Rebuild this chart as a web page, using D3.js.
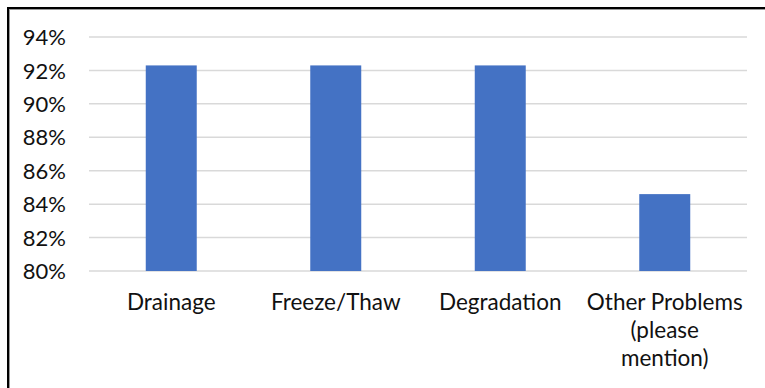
<!DOCTYPE html>
<html>
<head>
<meta charset="utf-8">
<script src="https://cdn.jsdelivr.net/npm/d3@7"></script>
<style>
  html, body { margin: 0; padding: 0; background: #fff; }
  svg { display: block; }
  text { font-family: Lato, "Open Sans", sans-serif; fill: #111; }
</style>
</head>
<body>
<svg id="chart" width="765" height="388"></svg>
<script>
// Share of responses per problem type
const categories = ["Drainage", "Freeze/Thaw", "Degradation", "Other Problems (please mention)"];
const categoryLines = [["Drainage"], ["Freeze/Thaw"], ["Degradation"], ["Other Problems", "(please", "mention)"]];
const values = [0.923, 0.923, 0.923, 0.846];
const yTicks = [0.80, 0.82, 0.84, 0.86, 0.88, 0.90, 0.92, 0.94];

const svg = d3.select("#chart");
const plot = { left: 89, right: 747, top: 37, bottom: 271 };

// Outer frame (only its top and left edges fall inside the view)
svg.append("rect")
  .attr("x", 8).attr("y", 8)
  .attr("width", 800).attr("height", 420)
  .attr("fill", "none")
  .attr("stroke", "#000")
  .attr("stroke-width", 2);
svg.append("line").attr("x1", 9).attr("x2", 765).attr("y1", 9.5).attr("y2", 9.5)
  .attr("stroke", "#999").attr("stroke-width", 1);
svg.append("line").attr("x1", 9.5).attr("x2", 9.5).attr("y1", 9).attr("y2", 388)
  .attr("stroke", "#999").attr("stroke-width", 1);

const x = d3.scaleBand()
  .domain(categories)
  .range([plot.left, plot.right])
  .paddingInner(0.69)
  .paddingOuter(0.345);

const y = d3.scaleLinear()
  .domain([0.80, 0.94])
  .range([plot.bottom, plot.top]);

// Horizontal gridlines
svg.append("g")
  .selectAll("line")
  .data(yTicks)
  .join("line")
  .attr("x1", plot.left).attr("x2", plot.right)
  .attr("y1", d => y(d)).attr("y2", d => y(d))
  .attr("stroke", "#d9d9d9")
  .attr("stroke-width", 1.5);

// Y axis labels
const yAxis = d3.axisLeft(y)
  .tickValues(yTicks)
  .tickFormat(d3.format(".0%"))
  .tickSize(0)
  .tickPadding(0);
const gy = svg.append("g")
  .attr("transform", `translate(${plot.left - 23},0)`)
  .call(yAxis);
gy.select(".domain").remove();
gy.selectAll("text")
  .attr("font-size", 22)
  .attr("font-family", "Lato, 'Open Sans', sans-serif")
  .attr("fill", "#111")
  .attr("dy", "0.35em");

// Bars
svg.append("g")
  .selectAll("rect")
  .data(values)
  .join("rect")
  .attr("x", (d, i) => x(categories[i]))
  .attr("width", x.bandwidth())
  .attr("y", d => y(d))
  .attr("height", d => y(0.80) - y(d))
  .attr("fill", "#4472C4");

// Category labels (wrapped)
const gx = svg.append("g");
categoryLines.forEach((lines, i) => {
  const t = gx.append("text")
    .attr("x", x(categories[i]) + x.bandwidth() / 2)
    .attr("y", 310)
    .attr("text-anchor", "middle")
    .attr("font-size", 22.5);
  lines.forEach((ln, j) => {
    t.append("tspan")
      .attr("x", x(categories[i]) + x.bandwidth() / 2)
      .attr("y", 310 + j * 28)
      .text(ln);
  });
});
</script>
</body>
</html>
